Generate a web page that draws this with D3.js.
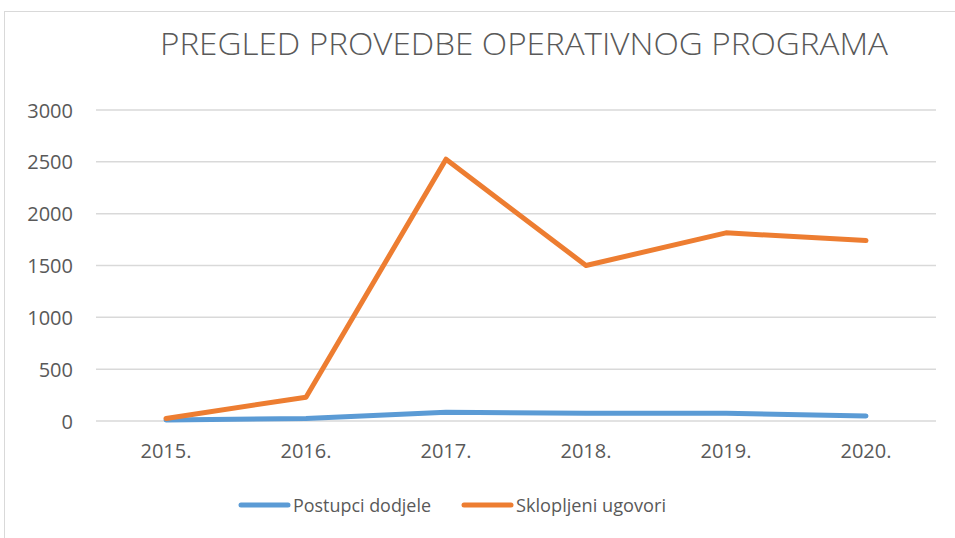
<!DOCTYPE html>
<html>
<head>
<meta charset="utf-8">
<script src="https://cdn.jsdelivr.net/npm/d3@7"></script>
<style>
  body { margin: 0; background: #fff; }
  text { font-family: "Open Sans", "Liberation Sans", sans-serif; fill: #595959; }
</style>
</head>
<body>
<div id="canvas"></div>
<script>
"use strict"

/* Data */
let years = ["2015.", "2016.", "2017.", "2018.", "2019.", "2020."];
let postupci = [10, 25, 85, 75, 75, 48];
let ugovori = [25, 230, 2525, 1500, 1815, 1740];
let yTicks = [0, 500, 1000, 1500, 2000, 2500, 3000];
let seriesNames = ["Postupci dodjele", "Sklopljeni ugovori"];
let seriesColors = ["#5B9BD5", "#ED7D31"];

/* Drawing config */
let svgWidth = 955;
let svgHeight = 538;
let plotLeft = 96, plotRight = 936, plotTop = 110, plotBottom = 421;

let svg = d3.select("#canvas")
    .append("svg")
    .attr("width", svgWidth)
    .attr("height", svgHeight);

/* chart border */
svg.append("rect")
    .attr("x", 4.5)
    .attr("y", 11.5)
    .attr("width", 970)
    .attr("height", 560)
    .attr("fill", "none")
    .attr("stroke", "#D9D9D9")
    .attr("stroke-width", 1);

let xScale = d3.scaleBand()
    .domain(years)
    .range([plotLeft, plotRight]);

let yScale = d3.scaleLinear()
    .domain([0, 3000])
    .range([plotBottom, plotTop]);

// gridlines
svg.append("g")
    .selectAll("line")
    .data(yTicks)
    .join("line")
    .attr("x1", plotLeft)
    .attr("x2", plotRight)
    .attr("y1", d => yScale(d))
    .attr("y2", d => yScale(d))
    .attr("stroke", "#D9D9D9")
    .attr("stroke-width", 1.5);

// y labels
svg.append("g")
    .selectAll("text")
    .data(yTicks)
    .join("text")
    .attr("x", 73)
    .attr("y", d => yScale(d) + 7.5)
    .attr("text-anchor", "end")
    .style("font-size", "20px")
    .text(d => d);

// x labels
svg.append("g")
    .selectAll("text")
    .data(years)
    .join("text")
    .attr("x", d => xScale(d) + xScale.bandwidth() / 2)
    .attr("y", 458)
    .attr("text-anchor", "middle")
    .style("font-size", "20px")
    .text(d => d);

// lines
let line = d3.line()
    .x((d, i) => xScale(years[i]) + xScale.bandwidth() / 2)
    .y(d => yScale(d));

[postupci, ugovori].forEach((s, k) => {
    svg.append("path")
        .datum(s)
        .attr("d", line)
        .attr("fill", "none")
        .attr("stroke", seriesColors[k])
        .attr("stroke-width", 5)
        .attr("stroke-linejoin", "round")
        .attr("stroke-linecap", "round");
});

/* title */
svg.append("text")
    .attr("x", 160)
    .attr("y", 55)
    .attr("textLength", 728)
    .attr("lengthAdjust", "spacingAndGlyphs")
    .style("font-size", "31px")
    .style("font-weight", 300)
    .text("PREGLED PROVEDBE OPERATIVNOG PROGRAMA");

/* legend */
let legendX = [241, 464];
let legendW = [138, 150];
let legend = svg.append("g");
legend.selectAll("line")
    .data(seriesNames)
    .join("line")
    .attr("x1", (d, i) => legendX[i])
    .attr("x2", (d, i) => legendX[i] + 47)
    .attr("y1", 505)
    .attr("y2", 505)
    .attr("stroke", (d, i) => seriesColors[i])
    .attr("stroke-width", 5)
    .attr("stroke-linecap", "round");

legend.selectAll("text")
    .data(seriesNames)
    .join("text")
    .attr("x", (d, i) => legendX[i] + 52)
    .attr("y", 512)
    .attr("textLength", (d, i) => legendW[i])
    .attr("lengthAdjust", "spacingAndGlyphs")
    .style("font-size", "19px")
    .text(d => d);
</script>
</body>
</html>
